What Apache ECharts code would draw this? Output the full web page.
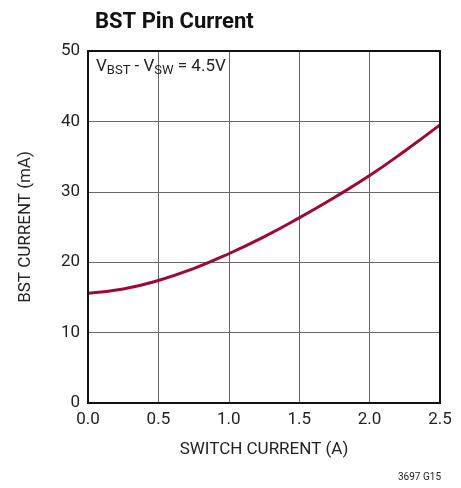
<!DOCTYPE html>
<html>
<head>
<meta charset="utf-8">
<script src="https://cdn.jsdelivr.net/npm/echarts@6/dist/echarts.min.js"></script>
<style>
  html, body { margin: 0; padding: 0; background: #fff; }
  #chart { width: 461px; height: 488px; }
</style>
</head>
<body>
<div id="chart"></div>
<script>
// switch current (A) vs BST pin current (mA)
var switchCurrent = [0, 0.25, 0.5, 0.75, 1.0, 1.25, 1.5, 1.75, 2.0, 2.25, 2.5];
var bstCurrent = [15.6, 16.2, 17.4, 19.1, 21.2, 23.6, 26.3, 29.2, 32.3, 35.8, 39.5];

var font = '"Liberation Sans Narrow", "Roboto", "Liberation Sans", sans-serif';

var myChart = echarts.init(document.getElementById('chart'));
var option = {
  animation: false,
  textStyle: { fontFamily: font },
  title: {
    text: 'BST Pin Current',
    left: 90,
    top: 6,
    textStyle: { fontFamily: font, fontSize: 22, fontWeight: 'bold', color: '#111' }
  },
  grid: { left: 88, right: 21, top: 51, bottom: 85 },
  xAxis: {
    type: 'value',
    min: 0,
    max: 2.5,
    interval: 0.5,
    name: 'SWITCH CURRENT (A)',
    nameLocation: 'middle',
    nameGap: 38,
    nameTextStyle: { fontFamily: font, fontSize: 17, color: '#222' },
    axisLine: { show: false },
    axisTick: { show: false },
    axisLabel: {
      fontFamily: font, fontSize: 17, color: '#222', margin: 8,
      formatter: function (v) { return v.toFixed(1); }
    },
    splitLine: { show: true, lineStyle: { color: '#666', width: 1 } }
  },
  yAxis: {
    type: 'value',
    min: 0,
    max: 50,
    interval: 10,
    name: 'BST CURRENT (mA)',
    nameLocation: 'middle',
    nameGap: 54,
    nameTextStyle: { fontFamily: font, fontSize: 17, color: '#222' },
    axisLine: { show: false },
    axisTick: { show: false },
    axisLabel: { fontFamily: font, fontSize: 17, color: '#222', margin: 8 },
    splitLine: { show: true, lineStyle: { color: '#666', width: 1 } }
  },
  graphic: [
    { // frame
      type: 'rect',
      shape: { x: 88, y: 51, width: 352, height: 352 },
      style: { fill: 'none', stroke: '#111', lineWidth: 2 },
      z: 10
    },
    {
      type: 'text',
      left: 96,
      top: 58,
      style: {
        text: '{n|V}{s|BST}{n| - V}{s|SW}{n| = 4.5V}',
        rich: {
          n: { fontFamily: font, fontSize: 17, fill: '#222' },
          s: { fontFamily: font, fontSize: 13, fill: '#222', padding: [8, 0, 0, 0] }
        }
      },
      z: 11
    },
    {
      type: 'text',
      left: 398,
      top: 472,
      style: { text: '3697 G15', fontFamily: font, fontSize: 10, fill: '#222' }
    }
  ],
  series: [{
    type: 'line',
    smooth: true,
    showSymbol: false,
    lineStyle: { color: '#9b0a33', width: 3 },
    data: switchCurrent.map(function (x, i) { return [x, bstCurrent[i]]; }),
    z: 5
  }]
};
myChart.setOption(option);
</script>
</body>
</html>
